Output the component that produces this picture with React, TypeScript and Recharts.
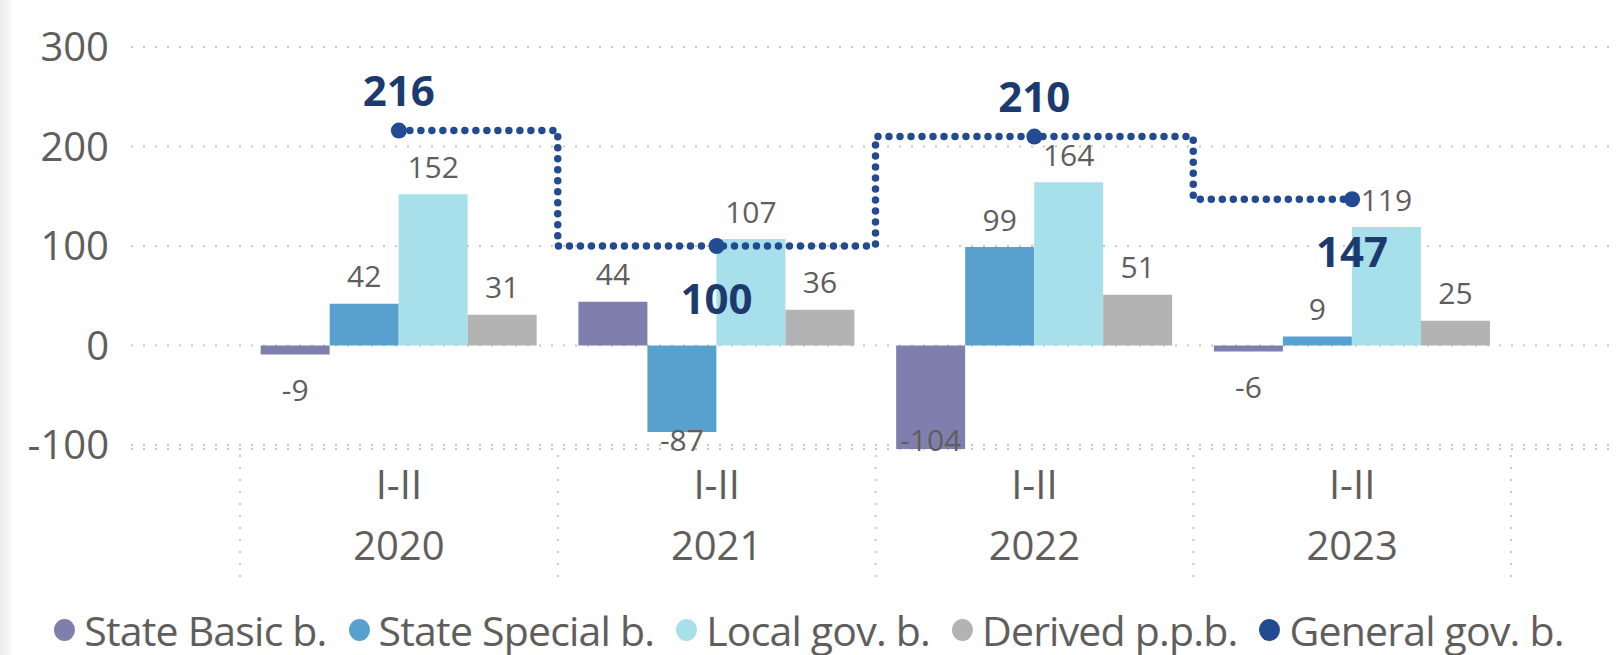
import React from "react";
import {
  ComposedChart,
  Bar,
  Line,
  XAxis,
  YAxis,
  CartesianGrid,
  Legend,
  LabelList,
} from "recharts";

// values
const YEARS = ["2020", "2021", "2022", "2023"];
const PERIODS = ["I-II", "I-II", "I-II", "I-II"];
const STATE_BASIC = [-9, 44, -104, -6];
const STATE_SPECIAL = [42, -87, 99, 9];
const LOCAL_GOV = [152, 107, 164, 119];
const DERIVED = [31, 36, 51, 25];
const GENERAL_GOV = [216, 100, 210, 147];
const GENERAL_LABEL_POS = ["above", "below", "above", "below"];
const Y_TICKS = [-100, 0, 100, 200, 300];

const SERIES = [
  { key: "basic", name: "State Basic b.", color: "#7f7fad" },
  { key: "special", name: "State Special b.", color: "#58a1cf" },
  { key: "local", name: "Local gov. b.", color: "#a7dfeb" },
  { key: "derived", name: "Derived p.p.b.", color: "#b3b3b3" },
  { key: "general", name: "General gov. b.", color: "#234b92" },
];

const data = YEARS.map((year, i) => ({
  year,
  period: PERIODS[i],
  basic: STATE_BASIC[i],
  special: STATE_SPECIAL[i],
  local: LOCAL_GOV[i],
  derived: DERIVED[i],
  general: GENERAL_GOV[i],
}));

// layout
const W = 1618;
const H = 655;
const AXIS_W = 131;
const TOP = 47;
const PLOT_H = 402;
const LEGEND_H = 62;
const XAXIS_H = H - TOP - PLOT_H - LEGEND_H;
const PAD_L = 109;
const PAD_R = 107;
const BAND = (W - AXIS_W - PAD_L - PAD_R) / YEARS.length;
const PLOT_BOTTOM = TOP + PLOT_H;

const FONT = "'Open Sans', 'Noto Sans', sans-serif";
const TEXT = "#605e5c";
const NAVY = "#1d3a6f";
const LINE_BLUE = "#234b92";

const BarLabel = (props: any) => {
  const { x, y, width, height, value } = props;
  const top = Math.min(y, y + height);
  const bottom = Math.max(y, y + height);
  const cy = value >= 0 ? top - 28 : Math.min(bottom + 35, PLOT_BOTTOM - 10);
  return (
    <text
      x={x + width / 2}
      y={cy}
      textAnchor="middle"
      dominantBaseline="central"
      fill={TEXT}
      fontSize={30}
      fontFamily={FONT}
    >
      {value}
    </text>
  );
};

const GeneralLabel = (props: any) => {
  const { x, y, value, index } = props;
  const cy = GENERAL_LABEL_POS[index] === "above" ? y - 41 : y + 51;
  return (
    <text
      x={x}
      y={cy}
      textAnchor="middle"
      dominantBaseline="central"
      fill={NAVY}
      fontSize={42}
      fontWeight={700}
      fontFamily={FONT}
    >
      {value}
    </text>
  );
};

const YearTick = (props: any) => {
  const { x, y, payload, index } = props;
  const sep = (sx: number) => (
    <line
      x1={sx}
      x2={sx}
      y1={y + 6}
      y2={y + 129}
      stroke="#c8c8c8"
      strokeWidth={2}
      strokeDasharray="2 10"
    />
  );
  return (
    <g>
      {index === 0 && sep(x - BAND / 2)}
      {sep(x + BAND / 2)}
      <text
        x={x}
        y={y + 34}
        textAnchor="middle"
        dominantBaseline="central"
        fill={TEXT}
        fontSize={40}
        fontFamily={FONT}
      >
        {PERIODS[index]}
      </text>
      <text
        x={x}
        y={y + 95}
        textAnchor="middle"
        dominantBaseline="central"
        fill={TEXT}
        fontSize={40}
        fontFamily={FONT}
      >
        {payload.value}
      </text>
    </g>
  );
};

const LegendContent = () => (
  <div
    style={{
      height: LEGEND_H,
      boxSizing: "border-box",
      paddingTop: 14,
      display: "flex",
      justifyContent: "center",
      alignItems: "flex-start",
      fontFamily: FONT,
      fontSize: 41,
      lineHeight: "46px",
      letterSpacing: -0.8,
      color: TEXT,
      whiteSpace: "nowrap",
    }}
  >
    {SERIES.map((s, i) => (
      <div
        key={s.key}
        style={{
          display: "flex",
          alignItems: "center",
          height: 46,
          marginRight: i < SERIES.length - 1 ? 22 : 0,
        }}
      >
        <span
          style={{
            display: "inline-block",
            width: 21,
            height: 22,
            borderRadius: "50%",
            background: s.color,
            marginRight: 9,
          }}
        />
        <span>{s.name}</span>
      </div>
    ))}
  </div>
);

export default function App() {
  return (
    <div style={{ position: "relative", width: W, height: H, background: "#fff" }}>
      <style>{"body{margin:0}"}</style>
      <div
        style={{
          position: "absolute",
          left: 0,
          top: 0,
          width: 13,
          height: H,
          background: "linear-gradient(to right, #ececec, #f6f6f6 70%, #ffffff)",
        }}
      />
      <ComposedChart
        width={W}
        height={H}
        data={data}
        margin={{ top: TOP, right: 0, left: 0, bottom: 0 }}
        barCategoryGap="6.5%"
        barGap={0}
      >
        <CartesianGrid
          vertical={false}
          stroke="#c8c8c8"
          strokeWidth={2}
          strokeDasharray="2 10"
        />
        <XAxis
          dataKey="year"
          height={XAXIS_H}
          axisLine={false}
          tickLine={false}
          tickSize={0}
          tickMargin={0}
          padding={{ left: PAD_L, right: PAD_R }}
          tick={<YearTick />}
          interval={0}
        />
        <YAxis
          width={AXIS_W}
          domain={[-100, 300]}
          ticks={Y_TICKS}
          axisLine={false}
          tickLine={false}
          tickMargin={16}
          tick={{ fill: TEXT, fontSize: 40, fontFamily: FONT }}
        />
        <Legend
          verticalAlign="bottom"
          height={LEGEND_H}
          content={<LegendContent />}
        />
        {SERIES.slice(0, 4).map((s) => (
          <Bar
            key={s.key}
            dataKey={s.key}
            name={s.name}
            fill={s.color}
            isAnimationActive={false}
          >
            <LabelList dataKey={s.key} content={<BarLabel />} />
          </Bar>
        ))}
        <Line
          type="step"
          dataKey="general"
          name="General gov. b."
          stroke={LINE_BLUE}
          strokeWidth={7.5}
          strokeDasharray="0 11"
          strokeLinecap="round"
          dot={{ r: 8, fill: LINE_BLUE, stroke: "none", strokeWidth: 0, strokeDasharray: "" }}
          activeDot={false}
          isAnimationActive={false}
        >
          <LabelList dataKey="general" content={<GeneralLabel />} />
        </Line>
      </ComposedChart>
    </div>
  );
}
